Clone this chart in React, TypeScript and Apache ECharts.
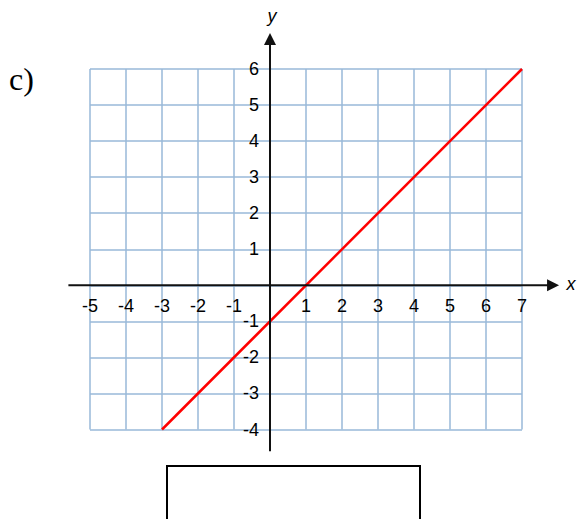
import React, { useEffect, useRef } from "react";
import * as echarts from "echarts";

// Axis ranges and ticks
const xTicks = [-5, -4, -3, -2, -1, 0, 1, 2, 3, 4, 5, 6, 7];
const yTicks = [-4, -3, -2, -1, 0, 1, 2, 3, 4, 5, 6];
// Line y = x - 1, drawn from (-3, -4) to (7, 6)
const lineX = [-3, 7];
const lineY = [-4, 6];
const partLabel = "c)";
const xName = "x";
const yName = "y";

const W = 578;
const H = 519;
const GRID_COLOR = "#98b9d8";
const SANS = "'Liberation Sans', Arial, sans-serif";

export default function App() {
  const ref = useRef<HTMLDivElement>(null);

  useEffect(() => {
    document.body.style.margin = "0";
    if (!ref.current) return;
    const chart = echarts.init(ref.current, null, { renderer: "svg" });
    const xMin = xTicks[0];
    const xMax = xTicks[xTicks.length - 1];
    const yMin = yTicks[0];
    const yMax = yTicks[yTicks.length - 1];

    const labelStyle = {
      show: true,
      interval: 0,
      fontSize: 18,
      fontFamily: SANS,
      color: "#000",
      showMinLabel: true,
      showMaxLabel: true,
      formatter: (v: number) => (v === 0 ? "" : String(v)),
    };

    const option: any = {
      animation: false,
      backgroundColor: "#ffffff",
      grid: {
        left: 90,
        right: 56,
        top: 69,
        bottom: 89.5,
        containLabel: false,
        outerBoundsMode: "none",
      },
      xAxis: {
        type: "value",
        position: "bottom",
        min: xMin,
        max: xMax,
        interval: 1,
        offset: 0,
        axisLine: { show: false, onZero: false },
        axisTick: { show: false },
        splitLine: { show: true, lineStyle: { color: GRID_COLOR, width: 1.5 } },
        axisLabel: { ...labelStyle, margin: 12 },
      },
      yAxis: {
        type: "value",
        position: "left",
        min: yMin,
        max: yMax,
        interval: 1,
        offset: 0,
        axisLine: { show: false, onZero: false },
        axisTick: { show: false },
        splitLine: { show: true, lineStyle: { color: GRID_COLOR, width: 1.5 } },
        axisLabel: { ...labelStyle, margin: 11 },
      },
      series: [
        {
          type: "line",
          data: lineX.map((x, i) => [x, lineY[i]]),
          symbol: "none",
          lineStyle: { color: "#ff0000", width: 2.5 },
          z: 5,
        },
      ],
    };
    chart.setOption(option);

    const p = (x: number, y: number) =>
      chart.convertToPixel({ gridIndex: 0 }, [x, y]) as number[];
    const origin = p(0, 0);
    const ox = origin[0];
    const oy = origin[1];
    // move the tick labels onto the zero lines
    const xOffset = oy - p(0, yMin)[1]; // negative: up from grid bottom
    const yOffset = -(ox - p(xMin, 0)[0]); // negative: right from grid left

    const xLeft = p(xMin - 0.6, 0)[0];
    const xTip = p(xMax + 1.03, 0)[0];
    const yBottom = p(0, yMin - 0.6)[1];
    const yTip = p(0, yMax + 1.0)[1];
    const arrowLen = 12;
    const arrowHalf = 6;

    chart.setOption({
      xAxis: { offset: xOffset },
      yAxis: { offset: yOffset },
      graphic: [
        {
          type: "line",
          shape: { x1: xLeft, y1: oy, x2: xTip - arrowLen + 1, y2: oy },
          style: { stroke: "#111", lineWidth: 2 },
          z: 10,
        },
        {
          type: "polygon",
          shape: {
            points: [
              [xTip, oy],
              [xTip - arrowLen, oy - arrowHalf],
              [xTip - arrowLen, oy + arrowHalf],
            ],
          },
          style: { fill: "#111" },
          z: 10,
        },
        {
          type: "line",
          shape: { x1: ox, y1: yBottom, x2: ox, y2: yTip + arrowLen - 1 },
          style: { stroke: "#111", lineWidth: 2 },
          z: 10,
        },
        {
          type: "polygon",
          shape: {
            points: [
              [ox, yTip],
              [ox - arrowHalf, yTip + arrowLen],
              [ox + arrowHalf, yTip + arrowLen],
            ],
          },
          style: { fill: "#111" },
          z: 10,
        },
        {
          type: "text",
          x: xTip + 12,
          y: oy - 1,
          style: {
            text: xName,
            fontFamily: SANS,
            fontStyle: "italic",
            fontSize: 18,
            fill: "#000",
            align: "center",
            verticalAlign: "middle",
          },
          z: 10,
        },
        {
          type: "text",
          x: ox + 2,
          y: yTip - 17,
          style: {
            text: yName,
            fontFamily: SANS,
            fontStyle: "italic",
            fontSize: 18,
            fill: "#000",
            align: "center",
            verticalAlign: "middle",
          },
          z: 10,
        },
        {
          type: "text",
          x: 9,
          y: 79,
          style: {
            text: partLabel,
            fontFamily: "'Liberation Serif', 'Times New Roman', serif",
            fontSize: 32,
            fill: "#000",
            align: "left",
            verticalAlign: "middle",
          },
          z: 10,
        },
        {
          type: "rect",
          shape: { x: 167, y: 466, width: 253, height: 80 },
          style: { fill: "none", stroke: "#000", lineWidth: 2 },
          z: 10,
        },
      ],
    });

    return () => chart.dispose();
  }, []);

  return <div ref={ref} style={{ width: W, height: H }} />;
}
